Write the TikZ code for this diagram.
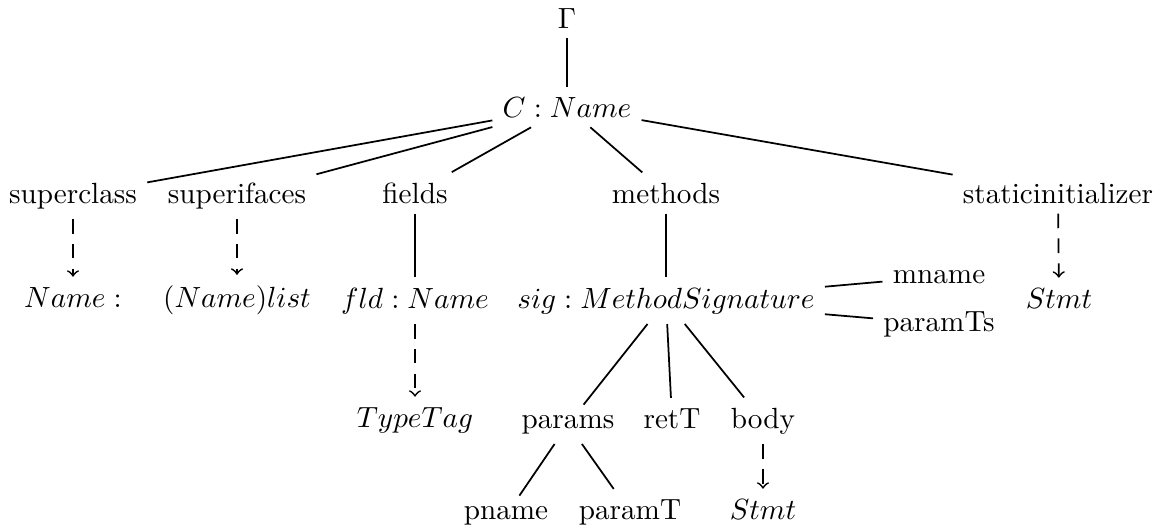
\documentclass[tikz,border=0pt]{standalone}
\begin{document}
\begin{tikzpicture}[x=0.3425pt, y=-0.3425pt,
  lbl/.style={anchor=base},
  edge/.style={line width=0.6pt},
  dashedge/.style={line width=0.6pt, dash pattern=on 5pt off 3.5pt, ->}]
\useasboundingbox (0,0) rectangle (1169,530);
% nodes (positioned by baseline; edges run centre to centre)
\node[lbl] (G)   at (567,28)   {$\Gamma$};
\node[lbl] (C)   at (567,117)  {$C : Name$};
\node[lbl] (sc)  at (73,203)   {superclass};
\node[lbl] (si)  at (237,203)  {superifaces};
\node[lbl] (fi)  at (415,203)  {fields};
\node[lbl] (me)  at (666,203)  {methods};
\node[lbl] (st)  at (1058,203) {staticinitializer};
\node[lbl] (n1)  at (73,307)   {$Name :$};
\node[lbl] (n2)  at (237,307)  {$(Name) list$};
\node[lbl] (fld) at (415,308)  {$fld : Name$};
\node[lbl] (sig) at (666,308)  {$sig : MethodSignature$};
\node[lbl] (mn)  at (939,283)  {mname};
\node[lbl] (pTs) at (939,331)  {paramTs};
\node[lbl] (sst) at (1059,308) {$Stmt$};
\node[lbl] (tt)  at (415,427)  {$TypeTag$};
\node[lbl] (pa)  at (568,428)  {params};
\node[lbl] (rt)  at (672,428)  {retT};
\node[lbl] (bo)  at (763,428)  {body};
\node[lbl] (pn)  at (506,519)  {pname};
\node[lbl] (pT)  at (630,519)  {paramT};
\node[lbl] (bs)  at (763,519)  {$Stmt$};
% solid edges
\draw[edge] (G) -- (C);
\draw[edge] (C) -- (sc);
\draw[edge] (C) -- (si);
\draw[edge] (C) -- (fi);
\draw[edge] (C) -- (me);
\draw[edge] (C) -- (st);
\draw[edge] (fi) -- (fld);
\draw[edge] (me) -- (sig);
\draw[edge] (sig) -- (mn);
\draw[edge] (sig) -- (pTs);
\draw[edge] (sig) -- (pa);
\draw[edge] (sig) -- (rt);
\draw[edge] (sig) -- (bo);
\draw[edge] (pa) -- (pn);
\draw[edge] (pa) -- (pT);
% dashed arrows
\draw[dashedge] (sc) -- (n1);
\draw[dashedge] (si) -- (n2);
\draw[dashedge] (fld) -- (tt);
\draw[dashedge] (st) -- (sst);
\draw[dashedge] (bo) -- (bs);
\end{tikzpicture}
\end{document}
